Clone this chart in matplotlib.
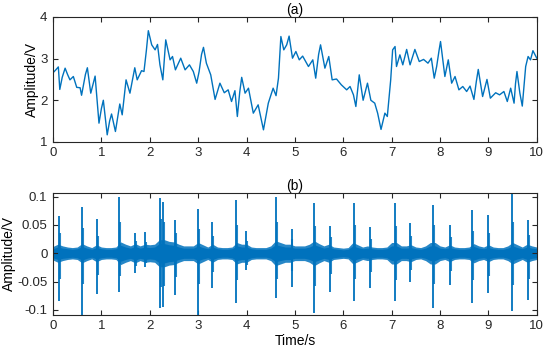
import matplotlib
matplotlib.use('Agg')
import matplotlib.pyplot as plt
import numpy as np

plt.rcParams['font.family'] = ['Liberation Sans', 'DejaVu Sans']

BLUE = '#0072BD'

# --- panel (a): slow signal ---
ta = [0.00, 0.05, 0.11, 0.14, 0.19, 0.25, 0.30, 0.35, 0.42, 0.49, 0.56, 0.59, 0.63,
      0.67, 0.71, 0.78, 0.83, 0.87, 0.95, 1.00, 1.04, 1.12, 1.17, 1.21, 1.29, 1.38,
      1.43, 1.51, 1.59, 1.69, 1.74, 1.83, 1.88, 1.93, 1.97, 2.04, 2.11, 2.16, 2.21,
      2.27, 2.33, 2.42, 2.47, 2.53, 2.64, 2.73, 2.82, 2.90, 2.97, 3.02, 3.07, 3.11,
      3.17, 3.26, 3.35, 3.45, 3.54, 3.62, 3.69, 3.76, 3.81, 3.86, 3.90, 3.97, 4.04,
      4.14, 4.24, 4.35, 4.45, 4.55, 4.61, 4.66, 4.71, 4.77, 4.83, 4.88, 4.95, 5.02,
      5.09, 5.16, 5.28, 5.37, 5.43, 5.49, 5.53, 5.62, 5.70, 5.77, 5.86, 5.96, 6.07,
      6.14, 6.21, 6.26, 6.33, 6.41, 6.50, 6.57, 6.65, 6.71, 6.78, 6.86, 6.91, 6.98,
      7.02, 7.07, 7.10, 7.17, 7.23, 7.31, 7.38, 7.48, 7.57, 7.66, 7.75, 7.82, 7.88,
      7.93, 7.98, 8.01, 8.10, 8.17, 8.24, 8.31, 8.39, 8.47, 8.55, 8.62, 8.70, 8.75,
      8.79, 8.88, 8.97, 9.04, 9.15, 9.23, 9.32, 9.39, 9.46, 9.53, 9.56, 9.59, 9.65,
      9.70, 9.77, 9.82, 9.87, 9.92, 10.00]
va = [2.66, 2.72, 2.80, 2.26, 2.55, 2.77, 2.62, 2.49, 2.57, 2.31, 2.30, 2.12, 2.37,
      2.62, 2.78, 2.17, 2.40, 2.58, 1.45, 1.80, 2.00, 1.17, 1.50, 1.67, 1.25, 1.91,
      1.65, 2.49, 2.17, 2.78, 2.49, 2.71, 2.69, 3.20, 3.67, 3.33, 3.21, 3.34, 2.85,
      2.49, 3.45, 2.97, 3.05, 2.73, 3.01, 2.73, 2.85, 2.69, 2.41, 2.69, 3.10, 3.27,
      2.89, 2.61, 2.02, 2.41, 2.18, 2.25, 1.97, 2.23, 1.61, 2.20, 2.55, 2.17, 2.29,
      1.69, 1.89, 1.29, 1.93, 2.29, 2.11, 2.53, 3.53, 3.21, 3.33, 3.54, 3.01, 3.17,
      2.97, 3.06, 2.81, 2.97, 2.53, 3.10, 3.33, 2.77, 3.05, 2.49, 2.51, 2.37, 2.25,
      2.33, 2.13, 1.85, 2.61, 2.00, 2.41, 2.00, 1.93, 1.69, 1.30, 1.69, 1.61, 2.49,
      3.21, 3.29, 2.81, 3.09, 2.85, 3.22, 2.85, 3.22, 2.93, 2.98, 2.89, 3.01, 2.53,
      2.81, 3.20, 3.41, 2.57, 2.97, 2.41, 2.57, 2.25, 2.33, 2.21, 2.34, 2.02, 2.45,
      2.74, 2.09, 2.50, 2.05, 2.18, 2.13, 2.21, 1.97, 2.29, 1.93, 2.40, 2.69, 2.17,
      1.86, 2.81, 3.05, 2.97, 3.19, 3.01]

# --- panel (b): impulsive signal ---
# noise band half-width every 0.1 s
tb = [i / 10 for i in range(101)]
band = [0.012, 0.016, 0.013, 0.011, 0.010, 0.011, 0.017, 0.013, 0.010, 0.015,
        0.011, 0.010, 0.010, 0.011, 0.020, 0.016, 0.013, 0.017, 0.013, 0.016,
        0.015, 0.016, 0.024, 0.024, 0.021, 0.020, 0.016, 0.013, 0.013, 0.013,
        0.019, 0.015, 0.011, 0.016, 0.011, 0.010, 0.010, 0.011, 0.019, 0.016,
        0.016, 0.011, 0.010, 0.010, 0.010, 0.013, 0.022, 0.019, 0.016, 0.016,
        0.013, 0.013, 0.013, 0.016, 0.022, 0.017, 0.013, 0.016, 0.011, 0.010,
        0.009, 0.010, 0.019, 0.015, 0.011, 0.013, 0.011, 0.010, 0.010, 0.011,
        0.019, 0.019, 0.013, 0.013, 0.015, 0.011, 0.010, 0.013, 0.019, 0.019,
        0.013, 0.011, 0.015, 0.011, 0.010, 0.010, 0.011, 0.017, 0.013, 0.011,
        0.015, 0.011, 0.010, 0.010, 0.013, 0.019, 0.015, 0.011, 0.016, 0.013,
        0.011]
band_core = [0.008, 0.011, 0.009, 0.008, 0.007, 0.008, 0.012, 0.009, 0.007, 0.010,
             0.008, 0.007, 0.007, 0.008, 0.014, 0.011, 0.009, 0.012, 0.009, 0.011,
             0.010, 0.011, 0.017, 0.017, 0.015, 0.014, 0.011, 0.009, 0.009, 0.009,
             0.013, 0.010, 0.008, 0.011, 0.008, 0.007, 0.007, 0.008, 0.013, 0.011,
             0.011, 0.008, 0.007, 0.007, 0.007, 0.009, 0.015, 0.013, 0.011, 0.011,
             0.009, 0.009, 0.009, 0.011, 0.015, 0.012, 0.009, 0.011, 0.008, 0.007,
             0.006, 0.007, 0.013, 0.010, 0.008, 0.009, 0.008, 0.007, 0.007, 0.008,
             0.013, 0.013, 0.009, 0.009, 0.010, 0.008, 0.007, 0.009, 0.013, 0.013,
             0.009, 0.008, 0.010, 0.008, 0.007, 0.007, 0.008, 0.012, 0.009, 0.008,
             0.010, 0.008, 0.007, 0.007, 0.009, 0.013, 0.010, 0.008, 0.011, 0.009,
             0.008]

# impulses: time, positive peak, negative peak
spike_t = [0.13, 0.59, 0.90, 1.37, 1.69, 1.90, 2.21, 2.27, 2.52, 3.00, 3.29, 3.79,
           3.99, 4.61, 4.93, 5.40, 5.72, 6.22, 6.55, 7.07, 7.38, 7.86, 8.20, 8.67,
           8.99, 9.48, 9.81]
spike_up = [0.066, 0.082, 0.060, 0.100, 0.036, 0.038, 0.097, 0.090, 0.059, 0.079,
            0.056, 0.094, 0.040, 0.099, 0.042, 0.088, 0.048, 0.089, 0.047, 0.088,
            0.053, 0.085, 0.050, 0.076, 0.068, 0.107, 0.059]
spike_dn = [-0.084, -0.109, -0.072, -0.068, -0.035, -0.025, -0.097, -0.095, -0.074,
            -0.109, -0.062, -0.088, -0.030, -0.079, -0.060, -0.106, -0.068, -0.084,
            -0.062, -0.085, -0.050, -0.097, -0.056, -0.088, -0.071, -0.103, -0.082]
# secondary ringing right after each impulse
ring_t = [0.15, 0.61, 0.92, 1.39, 1.71, 1.92, 2.23, 2.30, 2.54, 3.02, 3.31, 3.81,
          4.01, 4.63, 4.95, 5.42, 5.74, 6.24, 6.57, 7.09, 7.40, 7.88, 8.22, 8.69,
          9.01, 9.50, 9.83]
ring_up = [0.035, 0.045, 0.030, 0.055, 0.022, 0.020, 0.060, 0.055, 0.035, 0.042,
           0.030, 0.050, 0.022, 0.055, 0.025, 0.048, 0.028, 0.050, 0.026, 0.048,
           0.030, 0.050, 0.028, 0.040, 0.036, 0.055, 0.032]
ring_dn = [-0.045, -0.055, -0.038, -0.040, -0.022, -0.018, -0.060, -0.058, -0.042,
           -0.055, -0.034, -0.048, -0.020, -0.045, -0.032, -0.058, -0.036, -0.046,
           -0.034, -0.048, -0.030, -0.055, -0.032, -0.048, -0.040, -0.056, -0.045]


def style_axes(ax):
    for s in ax.spines.values():
        s.set_color('#262626')
        s.set_linewidth(0.8)
    ax.tick_params(direction='in', top=True, right=True, length=3.5,
                   width=0.8, colors='#262626', labelsize=9.5, pad=4)


fig = plt.figure(figsize=(5.5, 3.53), dpi=100)
ax1 = fig.add_axes([0.0964, 0.598, 0.8796, 0.354])
ax2 = fig.add_axes([0.0964, 0.108, 0.8796, 0.346])

ax1.plot(ta, va, color=BLUE, lw=1.0)
ax1.set_xlim(0, 10)
ax1.set_ylim(1, 4)
ax1.set_xticks(range(11))
ax1.set_yticks([1, 2, 3, 4])
ax1.set_ylabel('Amplitude/V', fontsize=10, labelpad=1)
ax1.set_title('(a)', fontsize=10, pad=2)
style_axes(ax1)

tb_a = np.array(tb)
band_a = np.array(band)
core_a = np.array(band_core)
ax2.fill_between(tb_a, -band_a, band_a, color=BLUE, alpha=0.85, lw=0)
ax2.fill_between(tb_a, -core_a, core_a, color=BLUE, lw=0)
ax2.vlines(spike_t, spike_dn, spike_up, color=BLUE, lw=1.3)
ax2.vlines(ring_t, ring_dn, ring_up, color=BLUE, lw=1.5, alpha=0.85)
ax2.set_xlim(0, 10)
ax2.set_ylim(-0.109, 0.107)
ax2.set_xticks(range(11))
ax2.set_yticks([-0.1, -0.05, 0, 0.05, 0.1])
ax2.set_yticklabels(['-0.1', '-0.05', '0', '0.05', '0.1'])
ax2.set_ylabel('Amplitude/V', fontsize=10, labelpad=1)
ax2.set_xlabel('Time/s', fontsize=10, labelpad=1)
ax2.set_title('(b)', fontsize=10, pad=2)
style_axes(ax2)

fig.savefig('out.png', dpi=100)
